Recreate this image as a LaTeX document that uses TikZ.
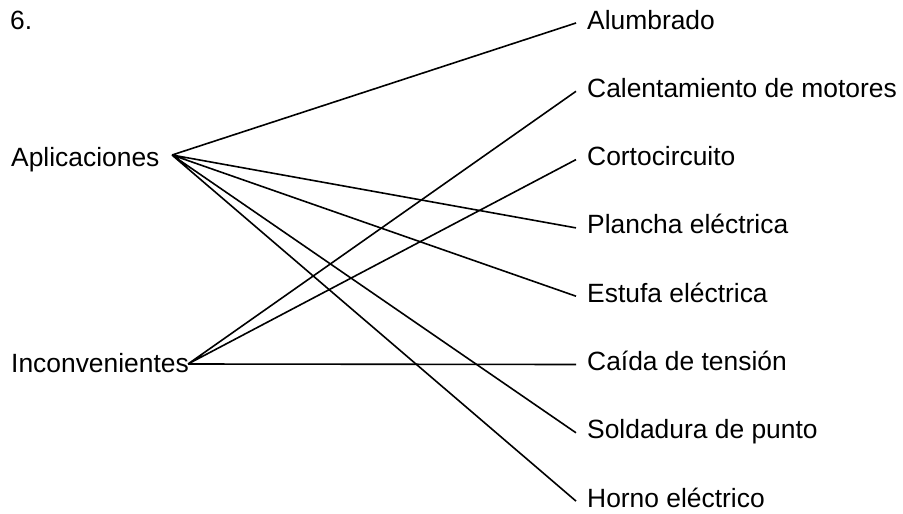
\documentclass[tikz,border=0pt]{standalone}
\usepackage{fontspec}
\setmainfont{Liberation Sans}
\tikzset{
	item/.style={anchor=west,inner xsep=11pt,inner ysep=0pt,text height=18pt,text depth=6pt},
	side/.style={anchor=base west,inner sep=0pt},
	link/.style={line width=1.6pt}
}
\begin{document}
\begin{tikzpicture}[x=1pt,y=-1pt,font=\fontsize{26.4}{30}\selectfont]
	\useasboundingbox (0,0) rectangle (903,514);
	\node[side] (num) at (10,29) {6.};
	\node[side] (aplic) at (11,166) {Aplicaciones};
	\node[side] (incon) at (11,372) {Inconvenientes};
	\coordinate (a) at (172,155);
	\coordinate (b) at (188,364);
	\node[item] (alum) at (576,23) {Alumbrado};
	\node[item] (calen) at (576,91.3) {Calentamiento de motores};
	\node[item] (corto) at (576,159.6) {Cortocircuito};
	\node[item] (planc) at (576,227.9) {Plancha eléctrica};
	\node[item] (estuf) at (576,296.2) {Estufa eléctrica};
	\node[item] (caida) at (576,364.5) {Caída de tensión};
	\node[item] (solda) at (576,432.8) {Soldadura de punto};
	\node[item] (horno) at (576,501.1) {Horno eléctrico};
	% aplicaciones
	\draw[link] (a)--(alum.west) (a)--(planc.west) (a)--(estuf.west)
		(a)--(solda.west) (a)--(horno.west);
	% inconvenientes
	\draw[link] (b)--(calen.west) (b)--(corto.west) (b)--(caida.west);
\end{tikzpicture}
\end{document}
